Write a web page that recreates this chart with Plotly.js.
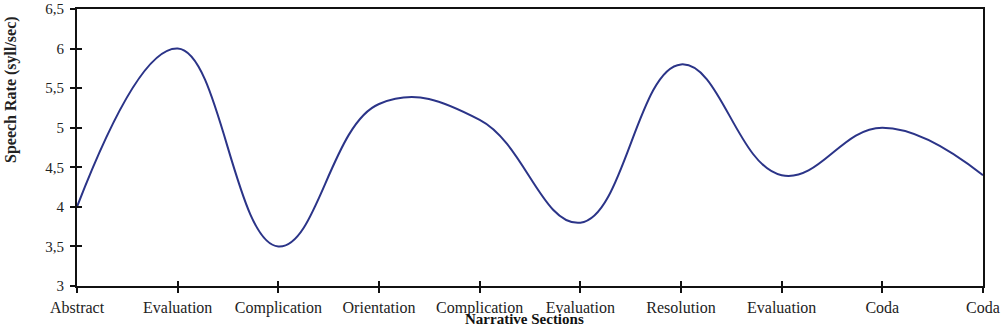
<!DOCTYPE html>
<html>
<head>
<meta charset="utf-8">
<script src="https://cdn.plot.ly/plotly-3.0.1.min.js"></script>
<style>
html,body{margin:0;padding:0;background:#fff;}
#chart{width:1004px;height:327px;}
</style>
</head>
<body>
<div id="chart"></div>
<script>
const categories = ["Abstract","Evaluation","Complication","Orientation","Complication","Evaluation","Resolution","Evaluation","Coda","Coda"];
const speechRate = [4.0, 6.0, 3.5, 5.3, 5.1, 3.8, 5.8, 4.4, 5.0, 4.4];
const positions = categories.map((c, i) => i);
const yTitle = "Speech Rate (syll/sec)";
const xTitle = "Narrative Sections";

const fontFam = "Liberation Serif, Times New Roman, serif";
const lineCol = "#2b3488";

const data = [
  {
    x: positions, y: speechRate, type: "scatter", mode: "lines",
    line: {shape: "spline", smoothing: 1.2, color: lineCol, width: 2},
    hoverinfo: "x+y", showlegend: false
  },
  {
    x: [positions[0]], y: [speechRate[0]], xaxis: "x2", yaxis: "y2",
    type: "scatter", mode: "lines", opacity: 0, hoverinfo: "skip", showlegend: false
  }
];

const layout = {
  width: 1004, height: 327,
  margin: {l: 77, r: 21, t: 9, b: 41, pad: 0},
  paper_bgcolor: "#ffffff", plot_bgcolor: "#ffffff",
  separators: ", ",
  font: {family: fontFam, size: 14, color: "#222"},
  showlegend: false,
  xaxis: {
    range: [0, 9], tickmode: "array", tickvals: positions, ticktext: categories,
    showgrid: false, zeroline: false, showline: true, linecolor: "#111", linewidth: 2,
    mirror: true, ticks: "outside", ticklen: 5, tickwidth: 2, tickcolor: "#111",
    ticklabelstandoff: 1,
    tickfont: {family: fontFam, size: 16, color: "#222"}
  },
  yaxis: {
    range: [3, 6.5], dtick: 0.5, tick0: 3,
    showgrid: false, zeroline: false, showline: true, linecolor: "#111", linewidth: 2,
    mirror: true, ticks: "outside", ticklen: 5, tickwidth: 2, tickcolor: "#111",
    ticklabelstandoff: 3,
    tickfont: {family: fontFam, size: 15, color: "#222"}
  },
  xaxis2: {
    overlaying: "x", range: [0, 9], tickmode: "array", tickvals: positions,
    showticklabels: false, showgrid: false, zeroline: false, showline: false,
    ticks: "inside", ticklen: 5, tickwidth: 2, tickcolor: "#111", side: "bottom"
  },
  yaxis2: {
    overlaying: "y", range: [3, 6.5], dtick: 0.5, tick0: 3,
    showticklabels: false, showgrid: false, zeroline: false, showline: false,
    ticks: "inside", ticklen: 5, tickwidth: 2, tickcolor: "#111", side: "left"
  },
  annotations: [
    {
      text: "<b>" + yTitle + "</b>", xref: "paper", yref: "paper",
      x: -66/906, y: (286 - 90) / 277, xanchor: "center", yanchor: "middle",
      textangle: -90, showarrow: false,
      font: {family: fontFam, size: 16, color: "#222"}
    },
    {
      text: "<b>" + xTitle + "</b>", xref: "paper", yref: "paper",
      x: 0.494, y: -33/277, xanchor: "center", yanchor: "middle",
      showarrow: false,
      font: {family: fontFam, size: 15, color: "#111"}
    }
  ]
};

Plotly.newPlot("chart", data, layout, {displayModeBar: false, staticPlot: false});
</script>
</body>
</html>
